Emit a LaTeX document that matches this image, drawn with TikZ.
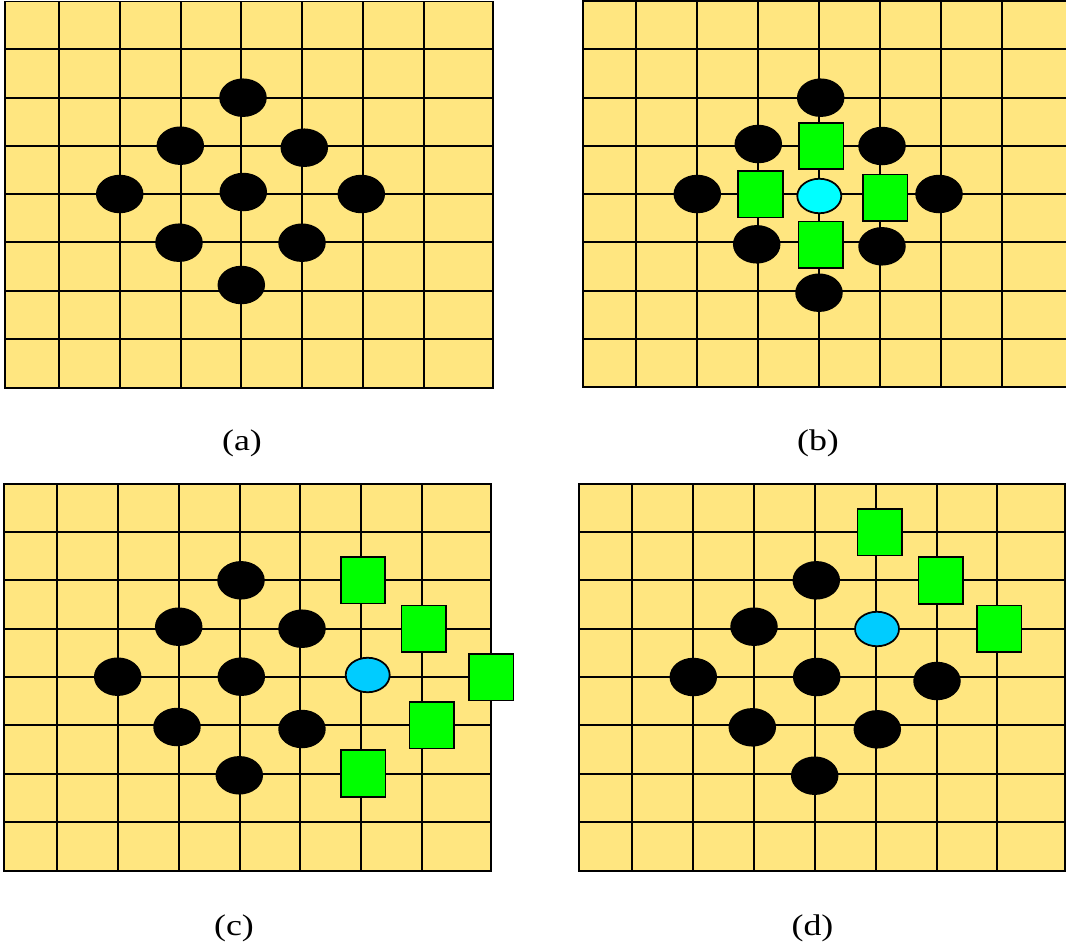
\documentclass[tikz,border=0pt]{standalone}
\usepackage{fontspec}
\setmainfont{Liberation Serif}
\usetikzlibrary{shapes.geometric}
\definecolor{board}{RGB}{255,230,128}
\definecolor{grn}{RGB}{0,255,0}
\definecolor{cyn}{RGB}{0,255,255}
\definecolor{sky}{RGB}{0,204,255}
\begin{document}
\begin{tikzpicture}[x=0.02cm,y=-0.02cm,
  gridline/.style={line width=1.1pt,black},
  stone/.style={ellipse,fill=black,minimum width=0.95cm,minimum height=0.77cm,inner sep=0pt},
  greensq/.style={rectangle,fill=grn,draw=black,line width=1pt,minimum width=0.89cm,minimum height=0.93cm,inner sep=0pt},
  cyanpt/.style={ellipse,fill=cyn,draw=black,line width=1pt,minimum width=0.88cm,minimum height=0.69cm,inner sep=0pt},
  bluept/.style={cyanpt,fill=sky},
  caption/.style={font=\fontsize{17}{20}\selectfont,xscale=1.2}]
\useasboundingbox (0,0) rectangle (1066,947);
\clip (0,0) rectangle (1066,947);

% ---------- panel (a)
\fill[board] (5,1.5) rectangle (492.7,387.7);
\foreach \x in {59,120,180.7,241.3,302.3,363,424}
  \draw[gridline] (\x,1.5)--(\x,387.7);
\foreach \y in {49.3,97.7,145.7,193.7,242.3,290.7,339}
  \draw[gridline] (5,\y)--(492.7,\y);
\draw[gridline] (5,1.5) rectangle (492.7,387.7);
\node[stone] (a1) at (243,97.7) {};
\node[stone] (a2) at (180.3,145.7) {};
\node[stone] (a3) at (304.3,147.7) {};
\node[stone] (a4) at (119.7,194) {};
\node[stone] (a5) at (243.3,192) {};
\node[stone] (a6) at (361.3,194) {};
\node[stone] (a7) at (179,242.7) {};
\node[stone] (a8) at (302,242.7) {};
\node[stone] (a9) at (241.3,285) {};
\node[caption] (capa) at (242,443) {(a)};

% ---------- panel (b)
\fill[board] (583,0.7) rectangle (1070,387.3);
\foreach \x in {636.3,697.3,758.3,819.3,880,941,1001.7}
  \draw[gridline] (\x,0.7)--(\x,387.3);
\foreach \y in {49.3,97.7,145.7,193.7,242.3,290.7,339}
  \draw[gridline] (583,\y)--(1070,\y);
\draw[gridline] (583,0.7) rectangle (1070,387.3);
\node[stone] (b1) at (820.7,97.7) {};
\node[stone] (b2) at (758.3,144) {};
\node[stone] (b3) at (882,146) {};
\node[stone] (b4) at (697.3,194) {};
\node[stone] (b5) at (939,194) {};
\node[stone] (b6) at (756.7,244.3) {};
\node[stone] (b7) at (882,246.3) {};
\node[stone] (b8) at (819,292.7) {};
\node[cyanpt] (bc) at (819.3,196) {};
\node[greensq] (bs1) at (821.2,146) {};
\node[greensq] (bs2) at (760.5,194.2) {};
\node[greensq] (bs3) at (885.2,197.8) {};
\node[greensq] (bs4) at (820.7,244.7) {};
\node[caption] (capb) at (818,443) {(b)};

% ---------- panel (c)
\fill[board] (3.7,484) rectangle (490.7,870.7);
\foreach \x in {57.3,118,178.7,239.7,300.3,361,422}
  \draw[gridline] (\x,484)--(\x,870.7);
\foreach \y in {532.3,580.3,628.7,676.7,725,773.7,822}
  \draw[gridline] (3.7,\y)--(490.7,\y);
\draw[gridline] (3.7,484) rectangle (490.7,870.7);
\node[stone] (c1) at (241,580.3) {};
\node[stone] (c2) at (178.7,626.7) {};
\node[stone] (c3) at (302,628.7) {};
\node[stone] (c4) at (117.7,676.7) {};
\node[stone] (c5) at (241.3,676.7) {};
\node[stone] (c6) at (177,727) {};
\node[stone] (c7) at (302,729) {};
\node[stone] (c8) at (239.3,775.3) {};
\node[bluept] (cb) at (367.7,675) {};
\node[greensq] (cs1) at (363,580.2) {};
\node[greensq] (cs2) at (423.8,628.8) {};
\node[greensq] (cs3) at (491.3,677.2) {};
\node[greensq] (cs4) at (431.8,725.3) {};
\node[greensq] (cs5) at (363.3,773.5) {};
\node[caption] (capc) at (234,928) {(c)};

% ---------- panel (d)
\fill[board] (579,484.3) rectangle (1065.3,871);
\foreach \x in {632.3,693,753.7,815,875.7,936.7,997}
  \draw[gridline] (\x,484.3)--(\x,871);
\foreach \y in {532.3,580.3,628.7,676.7,725,773.7,822}
  \draw[gridline] (579,\y)--(1065.3,\y);
\draw[gridline] (579,484.3) rectangle (1065.3,871);
\node[stone] (d1) at (816.3,580.3) {};
\node[stone] (d2) at (754,626.7) {};
\node[stone] (d3) at (693.3,677) {};
\node[stone] (d4) at (816.7,677) {};
\node[stone] (d5) at (937,681) {};
\node[stone] (d6) at (752.3,727.3) {};
\node[stone] (d7) at (877.3,729.3) {};
\node[stone] (d8) at (814.7,775.7) {};
\node[bluept] (db) at (877,629) {};
\node[greensq] (ds1) at (879.8,532.2) {};
\node[greensq] (ds2) at (940.7,580.5) {};
\node[greensq] (ds3) at (999.2,628.7) {};
\node[caption] (capd) at (812.5,928) {(d)};
\end{tikzpicture}
\end{document}
